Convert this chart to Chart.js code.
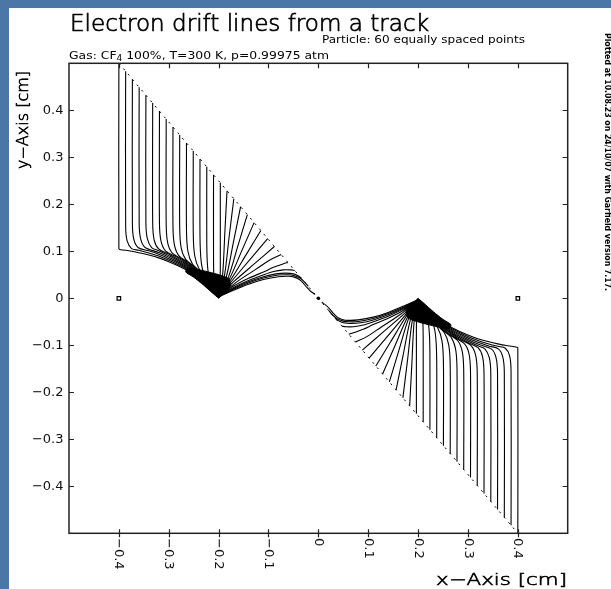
<!DOCTYPE html>
<html><head><meta charset="utf-8">
<script src="https://cdn.jsdelivr.net/npm/chart.js@4.4.0/dist/chart.umd.min.js"></script>
<style>html,body{margin:0;padding:0;background:#fff;overflow:hidden}canvas{display:block}</style>
</head><body><canvas id="c" width="611" height="589"></canvas>
<script>
const xTickValues = [-0.4,-0.3,-0.2,-0.1,0,0.1,0.2,0.3,0.4];
const xTickLabels = ['\u22120.4','\u22120.3','\u22120.2','\u22120.1','0','0.1','0.2','0.3','0.4'];
const yTickValues = [0.4,0.3,0.2,0.1,0,-0.1,-0.2,-0.3,-0.4];
const yTickLabels = ['0.4','0.3','0.2','0.1','0','\u22120.1','\u22120.2','\u22120.3','\u22120.4'];
const trackLine = [-0.4,0.5, 0.4,-0.5];
const wireSquares = [-0.4,0, 0.4,0];
const wireDots = [0,0];
// dense end regions of the drift lines round the two anodes
const leftAnodeBlob = [-0.2,0.0, -0.186,0.014, -0.176,0.028, -0.18,0.042, -0.196,0.049, -0.22,0.056, -0.245,0.062, -0.262,0.064, -0.266,0.056, -0.25,0.045, -0.23,0.028, -0.212,0.011];
const rightAnodeBlob = [0.2,0.0, 0.186,-0.014, 0.176,-0.028, 0.18,-0.042, 0.196,-0.049, 0.22,-0.056, 0.245,-0.062, 0.262,-0.064, 0.266,-0.056, 0.25,-0.045, 0.23,-0.028, 0.212,-0.011];

// drift lines ending on the left anode (flat x,y pairs)
const leftCellPaths = [
[-0.4,0.5, -0.4,0.106, -0.398,0.104, -0.38,0.101, -0.36,0.097, -0.34,0.092, -0.32,0.086, -0.30,0.078, -0.27,0.0635, -0.245,0.0475, -0.225,0.030, -0.203,0.006],
[-0.3864,0.4831, -0.3864,0.154, -0.3834,0.122, -0.3744,0.1057, -0.36,0.1022, -0.34,0.0965, -0.32,0.0898, -0.30,0.0812, -0.27,0.0660, -0.245,0.0493, -0.225,0.0313, -0.2038,0.007],
[-0.3729,0.4661, -0.3729,0.158, -0.3699,0.125, -0.3609,0.1076, -0.34,0.101, -0.32,0.0936, -0.30,0.0844, -0.27,0.0684, -0.245,0.0511, -0.225,0.0326, -0.2036,0.007],
[-0.3593,0.4492, -0.3593,0.160, -0.3563,0.1264, -0.3473,0.1082, -0.32,0.0974, -0.30,0.0876, -0.27,0.0709, -0.245,0.0529, -0.225,0.0339, -0.2034,0.0072],
[-0.3458,0.4322, -0.3458,0.161, -0.3428,0.1263, -0.3338,0.1075, -0.32,0.1012, -0.30,0.0908, -0.27,0.0733, -0.245,0.0547, -0.225,0.0352, -0.2032,0.0074],
[-0.3322,0.4153, -0.3322,0.160, -0.3292,0.124, -0.3202,0.1051, -0.30,0.094, -0.27,0.0758, -0.245,0.0565, -0.225,0.0365, -0.203,0.0076],
[-0.3186,0.3983, -0.3186,0.159, -0.3156,0.122, -0.3066,0.101, -0.285,0.0881, -0.27,0.0782, -0.245,0.0583, -0.225,0.0378, -0.2028,0.0078],
[-0.3051,0.3814, -0.3051,0.157, -0.3021,0.118, -0.2931,0.0969, -0.27,0.0807, -0.245,0.0601, -0.225,0.0391, -0.2026,0.008],
[-0.2915,0.3644, -0.2915,0.153, -0.2885,0.113, -0.2795,0.0903, -0.26,0.0756, -0.245,0.0619, -0.225,0.0404, -0.2024,0.0082],
[-0.278,0.3475, -0.278,0.149, -0.275,0.107, -0.266,0.0829, -0.245,0.0637, -0.225,0.0417, -0.2022,0.0084],
[-0.2644,0.3305, -0.2644,0.143, -0.2614,0.099, -0.2524,0.0728, -0.235,0.0548, -0.225,0.043, -0.202,0.0086],
[-0.2508,0.3136, -0.2508,0.137, -0.2478,0.090, -0.2388,0.0616, -0.225,0.0443, -0.2018,0.0088],
[-0.2373,0.2966, -0.2373,0.13, -0.2348,0.077, -0.2283,0.0498, -0.2016,0.009],
[-0.2237,0.2797, -0.2237,0.115, -0.222,0.066, -0.2175,0.038, -0.2014,0.009],
[-0.2102,0.2627, -0.2102,0.09, -0.2095,0.05, -0.2065,0.028, -0.2012,0.009],
[-0.1966,0.2458, -0.1966,0.09, -0.1968,0.05, -0.1985,0.025, -0.2004,0.009],
[-0.1831,0.2288, -0.1875,0.14, -0.192,0.05, -0.199,0.008],
[-0.1695,0.2119, -0.179,0.13, -0.188,0.05, -0.1985,0.008],
[-0.1559,0.1949, -0.170,0.121, -0.184,0.048, -0.198,0.008],
[-0.1424,0.178, -0.1612,0.112, -0.180,0.046, -0.1975,0.008],
[-0.1288,0.161, -0.153,0.1025, -0.177,0.044, -0.197,0.008],
[-0.1153,0.1441, -0.1447,0.093, -0.174,0.042, -0.1965,0.008],
[-0.1017,0.1271, -0.1364,0.0835, -0.171,0.040, -0.196,0.008],
[-0.0881,0.1102, -0.128,0.0736, -0.168,0.037, -0.1955,0.008],
[-0.0746,0.0932, -0.098,0.081, -0.125,0.062, -0.165,0.034, -0.195,0.008],
[-0.061,0.0763, -0.07,0.0735, -0.09,0.066, -0.11,0.056, -0.14,0.0425, -0.17,0.026, -0.198,0.005],
[-0.0475,0.0593, -0.055,0.0605, -0.07,0.0605, -0.09,0.057, -0.11,0.050, -0.14,0.038, -0.17,0.023, -0.1985,0.0045],
[-0.0339,0.0424, -0.04,0.0475, -0.05,0.052, -0.065,0.0535, -0.085,0.052, -0.11,0.046, -0.14,0.035, -0.17,0.021, -0.199,0.004],
[-0.0203,0.0254, -0.028,0.035, -0.037,0.043, -0.048,0.048, -0.06,0.050, -0.08,0.0495, -0.11,0.043, -0.14,0.0325, -0.17,0.019, -0.1995,0.0035],
[-0.0068,0.0085, -0.015,0.0145, -0.023,0.023, -0.03,0.032, -0.038,0.040, -0.048,0.045, -0.06,0.047, -0.08,0.046, -0.11,0.040, -0.14,0.030, -0.17,0.017, -0.2,0.003]
];

// drift lines ending on the right anode (flat x,y pairs)
const rightCellPaths = [
[0.0068,-0.0085, 0.015,-0.0145, 0.023,-0.023, 0.03,-0.032, 0.038,-0.040, 0.048,-0.045, 0.06,-0.047, 0.08,-0.046, 0.11,-0.040, 0.14,-0.030, 0.17,-0.017, 0.2,-0.003],
[0.0203,-0.0254, 0.028,-0.035, 0.037,-0.043, 0.048,-0.048, 0.06,-0.050, 0.08,-0.0495, 0.11,-0.043, 0.14,-0.0325, 0.17,-0.019, 0.1995,-0.0035],
[0.0339,-0.0424, 0.04,-0.0475, 0.05,-0.052, 0.065,-0.0535, 0.085,-0.052, 0.11,-0.046, 0.14,-0.035, 0.17,-0.021, 0.199,-0.004],
[0.0475,-0.0593, 0.055,-0.0605, 0.07,-0.0605, 0.09,-0.057, 0.11,-0.050, 0.14,-0.038, 0.17,-0.023, 0.1985,-0.0045],
[0.061,-0.0763, 0.07,-0.0735, 0.09,-0.066, 0.11,-0.056, 0.14,-0.0425, 0.17,-0.026, 0.198,-0.005],
[0.0746,-0.0932, 0.098,-0.081, 0.125,-0.062, 0.165,-0.034, 0.195,-0.008],
[0.0881,-0.1102, 0.128,-0.0736, 0.168,-0.037, 0.1955,-0.008],
[0.1017,-0.1271, 0.1364,-0.0835, 0.171,-0.040, 0.196,-0.008],
[0.1153,-0.1441, 0.1447,-0.093, 0.174,-0.042, 0.1965,-0.008],
[0.1288,-0.161, 0.153,-0.1025, 0.177,-0.044, 0.197,-0.008],
[0.1424,-0.178, 0.1612,-0.112, 0.180,-0.046, 0.1975,-0.008],
[0.1559,-0.1949, 0.170,-0.121, 0.184,-0.048, 0.198,-0.008],
[0.1695,-0.2119, 0.179,-0.13, 0.188,-0.05, 0.1985,-0.008],
[0.1831,-0.2288, 0.1875,-0.14, 0.192,-0.05, 0.199,-0.008],
[0.1966,-0.2458, 0.1966,-0.09, 0.1968,-0.05, 0.1985,-0.025, 0.2004,-0.009],
[0.2102,-0.2627, 0.2102,-0.09, 0.2095,-0.05, 0.2065,-0.028, 0.2012,-0.009],
[0.2237,-0.2797, 0.2237,-0.115, 0.222,-0.066, 0.2175,-0.038, 0.2014,-0.009],
[0.2373,-0.2966, 0.2373,-0.13, 0.2348,-0.077, 0.2283,-0.0498, 0.2016,-0.009],
[0.2508,-0.3136, 0.2508,-0.137, 0.2478,-0.090, 0.2388,-0.0616, 0.225,-0.0443, 0.2018,-0.0088],
[0.2644,-0.3305, 0.2644,-0.143, 0.2614,-0.099, 0.2524,-0.0728, 0.235,-0.0548, 0.225,-0.043, 0.202,-0.0086],
[0.278,-0.3475, 0.278,-0.149, 0.275,-0.107, 0.266,-0.0829, 0.245,-0.0637, 0.225,-0.0417, 0.2022,-0.0084],
[0.2915,-0.3644, 0.2915,-0.153, 0.2885,-0.113, 0.2795,-0.0903, 0.26,-0.0756, 0.245,-0.0619, 0.225,-0.0404, 0.2024,-0.0082],
[0.3051,-0.3814, 0.3051,-0.157, 0.3021,-0.118, 0.2931,-0.0969, 0.27,-0.0807, 0.245,-0.0601, 0.225,-0.0391, 0.2026,-0.008],
[0.3186,-0.3983, 0.3186,-0.159, 0.3156,-0.122, 0.3066,-0.101, 0.285,-0.0881, 0.27,-0.0782, 0.245,-0.0583, 0.225,-0.0378, 0.2028,-0.0078],
[0.3322,-0.4153, 0.3322,-0.160, 0.3292,-0.124, 0.3202,-0.1051, 0.30,-0.094, 0.27,-0.0758, 0.245,-0.0565, 0.225,-0.0365, 0.203,-0.0076],
[0.3458,-0.4322, 0.3458,-0.161, 0.3428,-0.1263, 0.3338,-0.1075, 0.32,-0.1012, 0.30,-0.0908, 0.27,-0.0733, 0.245,-0.0547, 0.225,-0.0352, 0.2032,-0.0074],
[0.3593,-0.4492, 0.3593,-0.160, 0.3563,-0.1264, 0.3473,-0.1082, 0.32,-0.0974, 0.30,-0.0876, 0.27,-0.0709, 0.245,-0.0529, 0.225,-0.0339, 0.2034,-0.0072],
[0.3729,-0.4661, 0.3729,-0.158, 0.3699,-0.125, 0.3609,-0.1076, 0.34,-0.101, 0.32,-0.0936, 0.30,-0.0844, 0.27,-0.0684, 0.245,-0.0511, 0.225,-0.0326, 0.2036,-0.007],
[0.3864,-0.4831, 0.3864,-0.154, 0.3834,-0.122, 0.3744,-0.1057, 0.36,-0.1022, 0.34,-0.0965, 0.32,-0.0898, 0.30,-0.0812, 0.27,-0.0660, 0.245,-0.0493, 0.225,-0.0313, 0.2038,-0.007],
[0.4,-0.5, 0.4,-0.106, 0.398,-0.104, 0.38,-0.101, 0.36,-0.097, 0.34,-0.092, 0.32,-0.086, 0.30,-0.078, 0.27,-0.0635, 0.245,-0.0475, 0.225,-0.030, 0.203,-0.006]
];

function toPts(flat){const p=[];for(let k=0;k<flat.length;k+=2)p.push({x:flat[k],y:flat[k+1]});return p;}

const datasets = [];
[leftAnodeBlob,rightAnodeBlob].forEach(b=>{
  datasets.push({data:toPts(b.concat(b.slice(0,2))),showLine:true,borderColor:'#000',borderWidth:1,pointRadius:0,tension:0.2,fill:'shape',backgroundColor:'#000'});
});
leftCellPaths.concat(rightCellPaths).forEach(path=>{
  datasets.push({data:toPts(path),showLine:true,borderColor:'#000',borderWidth:1.1,pointRadius:0,tension:0.3,fill:false});
});
datasets.push({data:toPts(trackLine),showLine:true,borderColor:'#000',borderWidth:1,borderDash:[2,5],pointRadius:0,tension:0,fill:false});
datasets.push({data:toPts(wireSquares),showLine:false,pointStyle:'rect',pointRadius:2.5,borderColor:'#000',borderWidth:1.2,backgroundColor:'#fff'});
datasets.push({data:toPts(wireDots),showLine:false,pointStyle:'circle',pointRadius:1.8,borderColor:'#000',borderWidth:0,backgroundColor:'#000'});

function fitText(g,str,x,y,font,width,rot,align,base,strokeW){
  g.save();g.font=font;const w=g.measureText(str).width;
  g.translate(x,y);if(rot)g.rotate(rot);
  const s=width?width/w:1;g.scale(s,1);
  g.textAlign='left';g.textBaseline=base||'alphabetic';
  const ox=align==='right'?-w:(align==='center'?-w/2:0);
  g.fillText(str,ox,0);
  if(strokeW){g.lineWidth=strokeW;g.strokeStyle=g.fillStyle;g.strokeText(str,ox,0);}
  g.restore();
}

const bgPlugin={id:'bg',beforeDraw(c){const g=c.ctx;g.save();g.fillStyle='#fff';g.fillRect(0,0,c.width,c.height);
  g.fillStyle='#4a77a5';g.fillRect(0,0,c.width,8);g.fillRect(0,0,9,c.height);g.restore();}};

const decoPlugin={id:'deco',afterDraw(c){
  const g=c.ctx,a=c.chartArea,xs=c.scales.x,ys=c.scales.y;
  g.save();g.strokeStyle='#222';g.lineWidth=1.5;
  g.strokeRect(a.left,a.top,a.right-a.left,a.bottom-a.top);
  g.lineWidth=1.2;g.beginPath();
  xTickValues.forEach(v=>{const px=Math.round(xs.getPixelForValue(v))+0.5;
    g.moveTo(px,a.bottom-4);g.lineTo(px,a.bottom+4);g.moveTo(px,a.top);g.lineTo(px,a.top+5);});
  yTickValues.forEach(v=>{const py=Math.round(ys.getPixelForValue(v))+0.5;
    g.moveTo(a.left,py);g.lineTo(a.left+5,py);g.moveTo(a.right,py);g.lineTo(a.right-5,py);});
  g.stroke();
  g.fillStyle='#111';
  yTickValues.forEach((v,k)=>{const py=ys.getPixelForValue(v);
    fitText(g,yTickLabels[k],63.5,py,'13px "DejaVu Sans"',0,0,'right','middle');});
  xTickValues.forEach((v,k)=>{const px=xs.getPixelForValue(v);
    fitText(g,xTickLabels[k],px,538,'13px "DejaVu Sans"',0,Math.PI/2,'left','middle');});
  g.fillStyle='#000';
  fitText(g,'Electron drift lines from a track',70,31,'200 23px "DejaVu Sans"',359,0,'left','alphabetic',0.7);
  fitText(g,'Particle: 60 equally spaced points',322,43,'11px "DejaVu Sans"',203,0,'left');
  g.save();g.font='11px "DejaVu Sans"';
  const p1='Gas: CF',p2=' 100%, T=300 K, p=0.99975 atm';
  const w1=g.measureText(p1).width,w2=g.measureText(p2).width;g.font='8px "DejaVu Sans"';const ws=g.measureText('4').width;
  const sc=260/(w1+w2+ws);g.translate(69,58.5);g.scale(sc,1);
  g.font='11px "DejaVu Sans"';g.fillText(p1,0,0);g.font='8px "DejaVu Sans"';g.fillText('4',w1,2.5);
  g.font='11px "DejaVu Sans"';g.fillText(p2,w1+ws,0);g.restore();
  fitText(g,'y\u2212Axis [cm]',28,169,'200 15px "DejaVu Sans"',98,-Math.PI/2,'left','alphabetic',0.6);
  fitText(g,'x\u2212Axis [cm]',567,585,'200 16px "DejaVu Sans"',131,0,'right','alphabetic',0.6);
  fitText(g,'Plotted at 10.08.23 on 24/10/07 with Garfield version 7.17.',607,33,'bold 8px "DejaVu Sans"',258,Math.PI/2,'left','middle');
  g.restore();
}};

new Chart(document.getElementById('c'),{
  type:'scatter',
  data:{datasets},
  options:{responsive:false,animation:false,devicePixelRatio:1,
    layout:{padding:{left:69,right:43.3,top:63.3,bottom:55.7}},
    scales:{x:{type:'linear',min:-0.5,max:0.5,display:false},y:{type:'linear',min:-0.5,max:0.5,display:false}},
    plugins:{legend:{display:false},tooltip:{enabled:false}},
    elements:{line:{capBezierPoints:true}}},
  plugins:[bgPlugin,decoPlugin]
});
</script></body></html>
